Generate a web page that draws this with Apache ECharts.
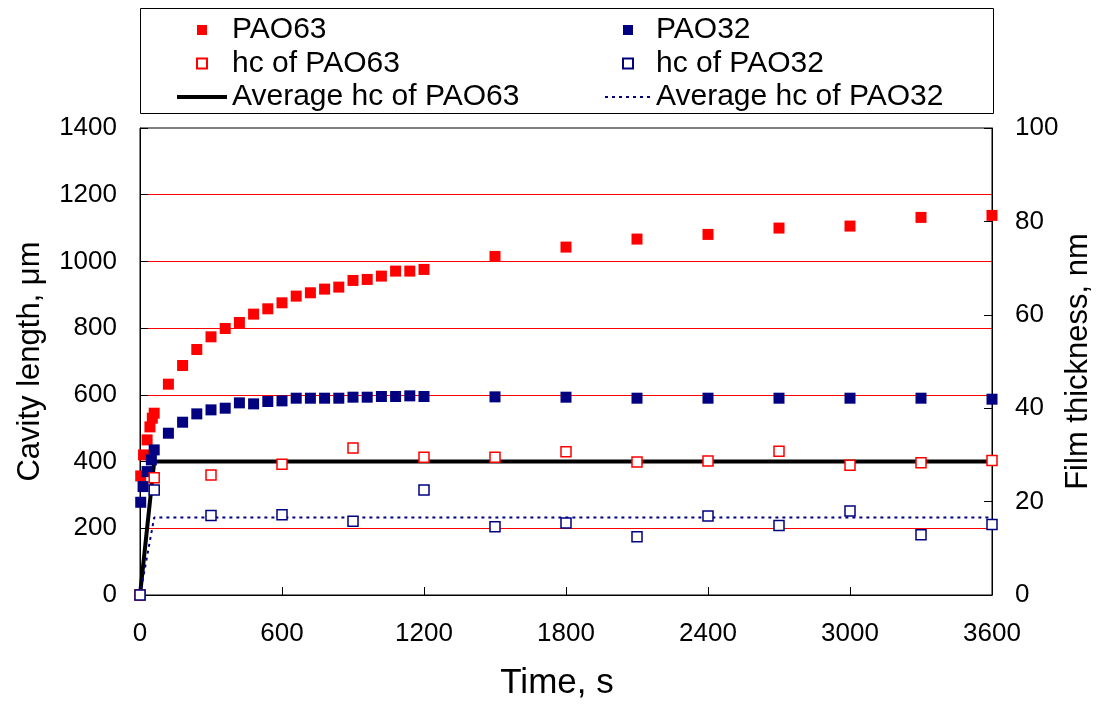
<!DOCTYPE html>
<html>
<head>
<meta charset="utf-8">
<script src="https://cdn.jsdelivr.net/npm/echarts@6/dist/echarts.min.js"></script>
<style>
html,body{margin:0;padding:0;background:#fff;}
#chart{width:1098px;height:704px;}
</style>
</head>
<body>
<div id="chart"></div>
<script>
// ---- data ----
const xTicks = [0, 600, 1200, 1800, 2400, 3000, 3600];
const leftTicks = [0, 200, 400, 600, 800, 1000, 1200, 1400];
const rightTicks = [0, 20, 40, 60, 80, 100];

const pao63Time = [3, 15, 30, 42, 52, 60, 120, 180, 240, 300, 360, 420, 480, 540, 600, 660, 720, 780, 840, 900, 960, 1020, 1080, 1140, 1200, 1500, 1800, 2100, 2400, 2700, 3000, 3300, 3600];
const pao63Cavity = [357, 420, 465, 504, 530, 545, 632, 688, 736, 774, 799, 817, 842, 858, 876, 896, 906, 917, 923, 943, 946, 956, 971, 971, 976, 1015, 1043, 1067, 1081, 1100, 1106, 1132, 1138];

const pao32Time = [3, 13, 30, 48, 60, 120, 180, 240, 300, 360, 420, 480, 540, 600, 660, 720, 780, 840, 900, 960, 1020, 1080, 1140, 1200, 1500, 1800, 2100, 2400, 2700, 3000, 3300, 3600];
const pao32Cavity = [278, 325, 370, 405, 435, 485, 518, 543, 555, 560, 576, 573, 580, 582, 590, 590, 590, 590, 593, 593, 595, 595, 597, 595, 594, 593, 590, 590, 590, 590, 590, 587];

const hcTime = [0, 60, 300, 600, 900, 1200, 1500, 1800, 2100, 2400, 2700, 3000, 3300, 3600];
const hcPAO63 = [0, 25.1, 25.7, 28.0, 31.5, 29.5, 29.5, 30.7, 28.5, 28.7, 30.8, 27.8, 28.3, 28.8];
const hcPAO32 = [0, 22.5, 17.0, 17.2, 15.8, 22.5, 14.6, 15.4, 12.5, 16.9, 14.9, 18.0, 12.9, 15.1];

const avgTime = [0, 60, 3600];
const avgPAO63 = [0, 28.6, 28.6];
const avgPAO32 = [0, 16.6, 16.6];

const seriesNames = ['PAO63', 'PAO32', 'hc of PAO63', 'hc of PAO32', 'Average hc of PAO63', 'Average hc of PAO32'];

// ---- build ----
const zip = (xs, ys) => xs.map((x, i) => [x, ys[i]]);
const FONT = '"Liberation Sans", Arial, sans-serif';
const RED = '#FF0000', NAVY = '#000080';
const SQUARE = 'path://M0 0H10V10H0Z';
const plain = v => String(v);

const legendText = {fontFamily: FONT, fontSize: 30, lineHeight: 30, color: '#000'};

const chart = echarts.init(document.getElementById('chart'), null, {renderer: 'canvas'});
const option = {
  animation: false,
  backgroundColor: '#fff',
  textStyle: {fontFamily: FONT},
  graphic: [{
    type: 'rect', left: 140, top: 8, z: -1,
    shape: {width: 853, height: 105},
    style: {fill: '#fff', stroke: '#000', lineWidth: 1}
  }],
  legend: [{
    data: [{name: seriesNames[0], icon: SQUARE}, {name: seriesNames[2], icon: SQUARE},
           {name: seriesNames[4], lineStyle: {width: 4, color: '#000'}}],
    orient: 'vertical', left: 175, top: 15, padding: 0,
    itemWidth: 50, itemHeight: 10, itemGap: 3.5, symbolKeepAspect: true,
    textStyle: legendText
  }, {
    data: [{name: seriesNames[1], icon: SQUARE}, {name: seriesNames[3], icon: SQUARE},
           {name: seriesNames[5], lineStyle: {width: 2, color: NAVY, type: [3, 4]}}],
    orient: 'vertical', left: 604, top: 15, padding: 0,
    itemWidth: 46, itemHeight: 10, itemGap: 3.5, symbolKeepAspect: true,
    textStyle: legendText
  }],
  grid: {left: 140, right: 106, top: 128, bottom: 109, show: true, borderColor: '#000', borderWidth: 1,
         backgroundColor: 'transparent', containLabel: false, outerBoundsMode: 'none'},
  xAxis: {
    type: 'value', min: xTicks[0], max: xTicks[xTicks.length - 1], interval: 600,
    name: 'Time, s', nameLocation: 'middle', nameGap: 71,
    nameTextStyle: {fontFamily: FONT, fontSize: 35, color: '#000', padding: [0, 18, 0, 0]},
    axisLine: {show: true, lineStyle: {color: '#000', width: 1}},
    axisTick: {show: true, inside: true, length: 8, lineStyle: {color: '#000'}},
    axisLabel: {fontFamily: FONT, fontSize: 26, color: '#000', margin: 26, formatter: plain},
    splitLine: {show: false}
  },
  yAxis: [{
    type: 'value', min: leftTicks[0], max: leftTicks[leftTicks.length - 1], interval: 200,
    name: 'Cavity length, μm', nameLocation: 'middle', nameGap: 94, nameRotate: 90,
    nameTextStyle: {fontFamily: FONT, fontSize: 31, color: '#000'},
    axisLine: {show: true, lineStyle: {color: '#000', width: 1}},
    axisTick: {show: true, inside: true, length: 8, lineStyle: {color: '#000'}},
    axisLabel: {fontFamily: FONT, fontSize: 26, color: '#000', margin: 23, formatter: plain},
    splitLine: {show: true, showMinLine: false, showMaxLine: false, lineStyle: {color: RED, width: 1}}
  }, {
    type: 'value', position: 'right', min: rightTicks[0], max: rightTicks[rightTicks.length - 1], interval: 20,
    name: 'Film thickness, nm', nameLocation: 'middle', nameGap: 71, nameRotate: 90, nameMoveOverlap: false,
    nameTextStyle: {fontFamily: FONT, fontSize: 31, color: '#000'},
    axisLine: {show: true, lineStyle: {color: '#000', width: 1}},
    axisTick: {show: true, inside: true, length: 8, lineStyle: {color: '#000'}},
    axisLabel: {fontFamily: FONT, fontSize: 26, color: '#000', margin: 23, formatter: plain},
    splitLine: {show: false}
  }],
  series: [{
    name: seriesNames[0], type: 'scatter', yAxisIndex: 0, z: 4,
    symbol: 'rect', symbolSize: 11,
    itemStyle: {color: RED, opacity: 1},
    data: zip(pao63Time, pao63Cavity)
  }, {
    name: seriesNames[1], type: 'scatter', yAxisIndex: 0, z: 5,
    symbol: 'rect', symbolSize: 11,
    itemStyle: {color: NAVY, opacity: 1},
    data: zip(pao32Time, pao32Cavity)
  }, {
    name: seriesNames[2], type: 'scatter', yAxisIndex: 1, z: 6,
    symbol: 'rect', symbolSize: 10,
    itemStyle: {color: '#fff', borderColor: RED, borderWidth: 1.5, opacity: 1},
    data: zip(hcTime, hcPAO63)
  }, {
    name: seriesNames[3], type: 'scatter', yAxisIndex: 1, z: 7,
    symbol: 'rect', symbolSize: 10,
    itemStyle: {color: '#fff', borderColor: NAVY, borderWidth: 1.5, opacity: 1},
    data: zip(hcTime, hcPAO32)
  }, {
    name: seriesNames[4], type: 'line', yAxisIndex: 1, z: 3,
    symbol: 'none', showSymbol: false,
    lineStyle: {color: '#000', width: 4},
    itemStyle: {color: 'rgba(0,0,0,0)'},
    data: zip(avgTime, avgPAO63)
  }, {
    name: seriesNames[5], type: 'line', yAxisIndex: 1, z: 3,
    symbol: 'none', showSymbol: false,
    lineStyle: {color: NAVY, width: 2, type: [3, 4]},
    itemStyle: {color: 'rgba(0,0,0,0)'},
    data: zip(avgTime, avgPAO32)
  }]
};
chart.setOption(option);
</script>
</body>
</html>
